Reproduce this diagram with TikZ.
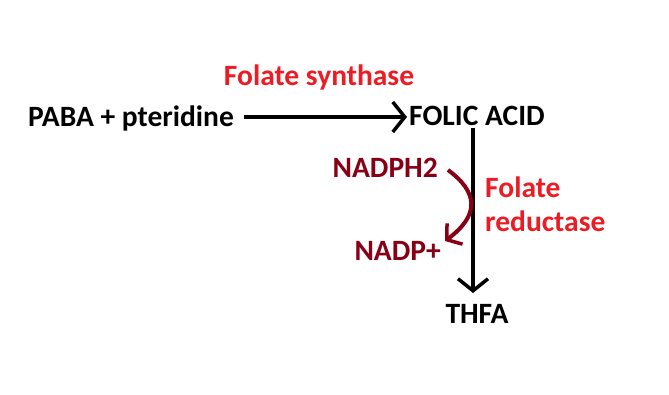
\documentclass[tikz,border=0pt]{standalone}
\usepackage{fontspec}
\setmainfont{Carlito}
\usetikzlibrary{arrows.meta}
\definecolor{pred}{HTML}{ED1C24}
\definecolor{dred}{HTML}{880015}
\begin{document}
\begin{tikzpicture}[x=1pt,y=-1pt,
  lbl/.style={inner sep=0pt, font=\fontsize{29.5}{34}\selectfont\bfseries},
  blk/.style={line width=4pt, -{Straight Barb[length=12pt,width=30pt,line width=3.5pt]}},
  crv/.style={line width=4pt, draw=dred, -{Straight Barb[length=10pt,width=26pt,line width=3.5pt]}}]
\useasboundingbox[fill=white] (0,0) rectangle (669,395);
\node[lbl, text=pred] (fs) at (319,77) {Folate synthase};
\node[lbl, anchor=west] (paba) at (28,118) {PABA + pteridine};
\node[lbl, anchor=west] (folic) at (409,116) {FOLIC ACID};
\node[lbl] (thfa) at (477,314) {THFA};
\node[lbl, text=dred, anchor=east] (nadph) at (438,168) {NADPH2};
\node[lbl, text=dred, anchor=east] (nadp) at (441,251) {NADP+};
\node[lbl, text=pred, anchor=west, align=left] (fr) at (485,204) {Folate\\reductase};
\coordinate (h1) at (244,117);
\coordinate (h2) at (407,117);
\coordinate (v1) at (473,128);
\coordinate (v2) at (473,293);
\coordinate (c1) at (448,170);
\coordinate (c2) at (445,241);
\draw[blk] (h1) -- (h2);
\draw[blk] (v1) -- (v2);
\draw[crv] (c1) .. controls (478,192) and (480,215) .. (c2);
\end{tikzpicture}
\end{document}
